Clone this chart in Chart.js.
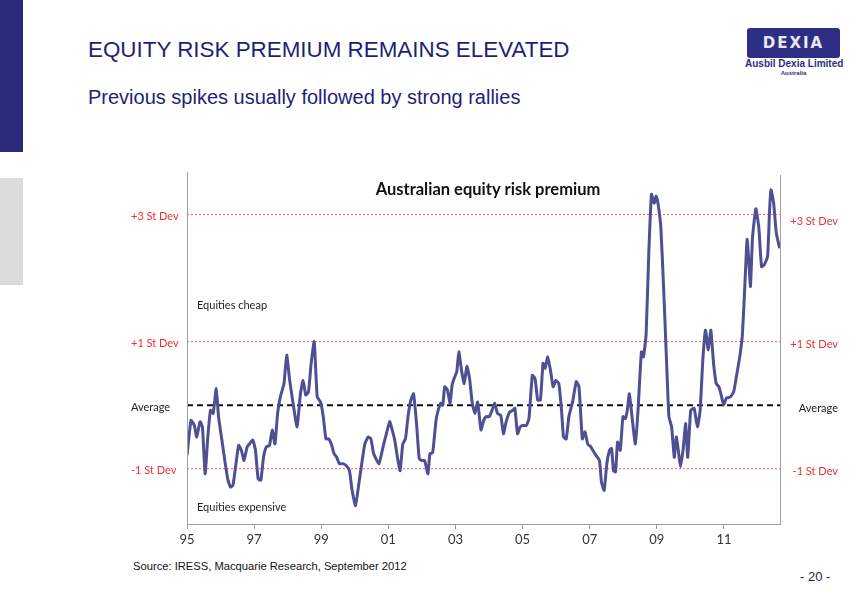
<!DOCTYPE html>
<html>
<head>
<meta charset="utf-8">
<script src="https://cdn.jsdelivr.net/npm/chart.js@4.4.0/dist/chart.umd.min.js"></script>
<style>
  html, body { margin: 0; padding: 0; background: #fff; }
  body { width: 867px; height: 597px; position: relative; overflow: hidden; font-family: "Liberation Sans", Arial, sans-serif; }
  #wrap { position: absolute; left: 0; top: 0; width: 867px; height: 597px; }
  .bar { position: absolute; left: 0; width: 23px; }
  .abs { position: absolute; white-space: nowrap; }
  #logo { position: absolute; left: 747px; top: 28px; width: 93px; height: 30px; background: #2e2e84; border-radius: 3px;
          color: #e8e8f2; font: bold 15px "DejaVu Sans", sans-serif; letter-spacing: 2px; text-align: center; line-height: 30px; }
</style>
</head>
<body>
<div class="bar" style="top:0;height:152px;background:#2b2b7b"></div>
<div class="bar" style="top:178px;height:107px;background:#dcdcdc"></div>
<div class="abs" style="left:88px;top:37px;font-size:22.4px;color:#1f1f78">EQUITY RISK PREMIUM REMAINS ELEVATED</div>
<div class="abs" style="left:88px;top:86px;font-size:20px;color:#1f1f78">Previous spikes usually followed by strong rallies</div>
<div id="logo">DEXIA</div>
<div class="abs" style="left:745px;top:58px;width:97px;text-align:center;font-weight:bold;font-size:10px;color:#2e2e84">Ausbil Dexia Limited</div>
<div class="abs" style="left:745px;top:70px;width:97px;text-align:center;font-weight:bold;font-size:6px;color:#2e2e84">Australia</div>
<div class="abs" style="left:133px;top:560px;font-size:11.2px;color:#111">Source: IRESS, Macquarie Research, September 2012</div>
<div class="abs" style="left:800px;top:569px;font-size:13px;color:#1f1f50">- 20 -</div>
<div id="wrap"><canvas id="chart" width="867" height="597"></canvas></div>
<script>
// decimal years
const dates = [
  1995.00, 1995.12, 1995.22, 1995.29, 1995.39, 1995.46, 1995.54, 1995.62, 1995.70, 1995.78, 1995.87, 1995.94,
  1996.04, 1996.14, 1996.22, 1996.30, 1996.37, 1996.46, 1996.54, 1996.62, 1996.70, 1996.79, 1996.86, 1996.96,
  1997.04, 1997.12, 1997.20, 1997.28, 1997.36, 1997.46, 1997.54, 1997.62, 1997.70, 1997.78, 1997.89, 1997.97,
  1998.06, 1998.16, 1998.28, 1998.38, 1998.46, 1998.54, 1998.62, 1998.70, 1998.79, 1998.88, 1998.98,
  1999.06, 1999.14, 1999.22, 1999.30, 1999.38, 1999.46, 1999.54, 1999.64, 1999.74, 1999.84, 1999.92,
  2000.02, 2000.12, 2000.22, 2000.30, 2000.40, 2000.48, 2000.56, 2000.72, 2000.84, 2000.94,
  2001.04, 2001.09, 2001.19, 2001.27, 2001.35, 2001.43, 2001.51, 2001.59, 2001.67, 2001.75, 2001.84, 2001.92,
  2002.00, 2002.08, 2002.18, 2002.24, 2002.32, 2002.42, 2002.50, 2002.56, 2002.62, 2002.68, 2002.76, 2002.84, 2002.90, 2002.96,
  2003.04, 2003.10, 2003.18, 2003.26, 2003.34, 2003.42, 2003.50, 2003.58, 2003.66, 2003.76, 2003.84, 2003.92,
  2004.01, 2004.09, 2004.17, 2004.25, 2004.35, 2004.43, 2004.51, 2004.61, 2004.71, 2004.77, 2004.85, 2004.93,
  2005.01, 2005.11, 2005.19, 2005.29, 2005.37, 2005.45, 2005.53, 2005.61, 2005.67, 2005.75, 2005.83, 2005.91, 2005.99,
  2006.08, 2006.16, 2006.22, 2006.30, 2006.38, 2006.50, 2006.60, 2006.68, 2006.78, 2006.86, 2006.94,
  2007.04, 2007.09, 2007.19, 2007.29, 2007.35, 2007.43, 2007.51, 2007.59, 2007.65, 2007.71, 2007.77, 2007.83, 2007.91, 2007.99,
  2008.06, 2008.12, 2008.18, 2008.26, 2008.36, 2008.44, 2008.54, 2008.60, 2008.68, 2008.76, 2008.84, 2008.92, 2008.98,
  2009.04, 2009.12, 2009.20, 2009.28, 2009.36, 2009.44, 2009.52, 2009.58, 2009.64, 2009.70, 2009.78, 2009.86, 2009.92,
  2010.01, 2010.11, 2010.21, 2010.29, 2010.37, 2010.45, 2010.53, 2010.61, 2010.69, 2010.77, 2010.85, 2010.93, 2010.99,
  2011.07, 2011.19, 2011.29, 2011.37, 2011.47, 2011.55, 2011.63, 2011.69, 2011.75, 2011.79, 2011.85, 2011.95,
  2012.04, 2012.12, 2012.20, 2012.30, 2012.36, 2012.40, 2012.48, 2012.56, 2012.66
];
// equity risk premium, in standard deviations from the average
const erp = [
  -0.79, -0.24, -0.32, -0.50, -0.26, -0.34, -1.08, -0.50, -0.08, -0.13, 0.26, -0.18,
  -0.55, -0.92, -1.18, -1.29, -1.26, -0.92, -0.63, -0.71, -0.87, -0.66, -0.61, -0.55,
  -0.71, -1.16, -1.18, -0.82, -0.66, -0.63, -0.39, -0.61, -0.13, 0.13, 0.34, 0.79,
  0.39, 0.03, -0.34, 0.18, 0.39, 0.16, 0.21, 0.66, 1.00, 0.13, 0.05,
  -0.18, -0.53, -0.53, -0.61, -0.76, -0.82, -0.92, -0.92, -0.95, -1.03, -1.34,
  -1.58, -1.24, -0.87, -0.61, -0.50, -0.53, -0.76, -0.92, -0.66, -0.45,
  -0.26, -0.34, -0.55, -0.82, -1.03, -0.61, -0.53, -0.16, 0.08, 0.18, -0.29, -0.84,
  -0.87, -0.87, -1.08, -0.76, -0.75, -0.24, -0.05, 0.03, 0.00, 0.29, 0.24, 0.03, 0.32, 0.42,
  0.53, 0.84, 0.55, 0.34, 0.61, 0.42, 0.03, -0.13, 0.05, -0.39, -0.24, -0.18,
  -0.18, -0.08, 0.03, -0.13, -0.16, -0.45, -0.26, -0.11, -0.08, -0.05, -0.45, -0.34,
  -0.32, -0.32, -0.21, 0.47, 0.42, 0.08, 0.08, 0.66, 0.58, 0.76, 0.55, 0.29, 0.39,
  0.34, -0.08, -0.50, -0.53, -0.18, 0.08, 0.37, 0.29, -0.53, -0.42, -0.61,
  -0.66, -0.71, -0.79, -0.87, -1.21, -1.34, -0.92, -0.71, -0.68, -1.03, -1.05, -0.58, -0.71, -0.18,
  -0.21, -0.08, 0.18, -0.18, -0.61, -0.08, 0.84, 0.76, 1.11, 2.39, 3.32, 3.18, 3.29,
  3.16, 2.79, 1.87, 0.82, -0.18, -0.34, -0.82, -0.50, -0.71, -0.97, -0.71, -0.29, -0.82,
  -0.08, -0.05, -0.34, -0.08, 0.71, 1.18, 0.87, 1.18, 0.66, 0.34, 0.29, 0.13, 0.00,
  0.11, 0.13, 0.21, 0.45, 0.76, 1.11, 1.97, 2.61, 2.18, 1.87, 2.63, 3.09,
  2.79, 2.18, 2.21, 2.34, 3.08, 3.39, 3.18, 2.71, 2.47
];
const bandLevels = [3, 1, 0, -1];
const bandLabels = ['+3 St Dev', '+1 St Dev', 'Average', '-1 St Dev'];
const tickYears = [1995, 1997, 1999, 2001, 2003, 2005, 2007, 2009, 2011];
const tickLabels = ['95', '97', '99', '01', '03', '05', '07', '09', '11'];

const X_MIN = 1995, X_MAX = 2012.67;
const LABEL_FONT = 'Lato, "Open Sans", sans-serif';

const bandDatasets = bandLevels.map((lvl, i) => ({
  label: bandLabels[i],
  data: [{ x: X_MIN, y: lvl }, { x: X_MAX, y: lvl }],
  borderColor: lvl === 0 ? '#111' : '#ff5a5a',
  borderWidth: lvl === 0 ? 2 : 1,
  borderDash: lvl === 0 ? [6, 4] : [2, 2],
  pointRadius: 0,
  tension: 0
}));

// side labels, axis lines and text notes
const decorations = {
  id: 'decorations',
  afterDraw(chart) {
    const { ctx, chartArea: a, scales: { y } } = chart;
    ctx.save();
    ctx.strokeStyle = '#a0a0a0';
    ctx.lineWidth = 1;
    ctx.beginPath();
    ctx.moveTo(a.left + 0.5, a.top); ctx.lineTo(a.left + 0.5, a.bottom);
    ctx.moveTo(a.right + 0.5, a.top + 3); ctx.lineTo(a.right + 0.5, a.bottom);
    ctx.stroke();

    ctx.font = '11px ' + LABEL_FONT;
    ctx.textBaseline = 'middle';
    bandLevels.forEach((lvl, i) => {
      const py = y.getPixelForValue(lvl);
      ctx.fillStyle = lvl === 0 ? '#222' : '#ee3030';
      ctx.textAlign = 'left';
      ctx.fillText(bandLabels[i], 131, py + 2);
      ctx.textAlign = 'right';
      ctx.fillText(bandLabels[i], 838, py + (lvl === 3 ? 7 : 3));
    });

    ctx.fillStyle = '#222';
    ctx.textAlign = 'left';
    ctx.fillText('Equities cheap', a.left + 10, y.getPixelForValue(1.575));
    ctx.fillText('Equities expensive', a.left + 10, y.getPixelForValue(-1.61));

    ctx.font = 'bold 16.5px ' + LABEL_FONT;
    ctx.fillStyle = '#111';
    ctx.textAlign = 'center';
    ctx.fillText('Australian equity risk premium', 488, 190);
    ctx.restore();
  }
};

new Chart(document.getElementById('chart'), {
  type: 'line',
  data: {
    datasets: [{
      label: 'Australian equity risk premium',
      data: dates.map((d, i) => ({ x: d, y: erp[i] })),
      borderColor: '#4f4f93',
      borderWidth: 3,
      pointRadius: 0,
      tension: 0.15
    }, ...bandDatasets]
  },
  options: {
    responsive: false,
    animation: false,
    devicePixelRatio: 1,
    layout: { padding: { left: 187, right: 87, top: 172, bottom: 43 } },
    plugins: { legend: { display: false }, tooltip: { enabled: false } },
    scales: {
      x: {
        type: 'linear',
        min: X_MIN,
        max: X_MAX,
        afterBuildTicks: s => { s.ticks = tickYears.map(v => ({ value: v })); },
        afterFit: s => { s.height = 30; },
        grid: { drawOnChartArea: false, drawTicks: true, tickLength: 5, color: '#999' },
        border: { display: true, color: '#a0a0a0' },
        ticks: {
          padding: 3,
          color: '#333',
          font: { family: LABEL_FONT, size: 13 },
          callback: v => tickLabels[tickYears.indexOf(v)] ?? ''
        }
      },
      y: {
        display: false,
        min: -1.87,
        max: 3.67
      }
    }
  },
  plugins: [decorations]
});
</script>
</body>
</html>
